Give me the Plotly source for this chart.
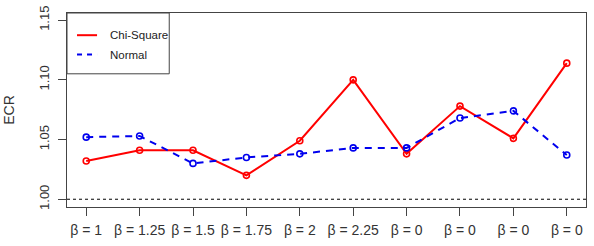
import plotly.graph_objects as go

x_pos = [1, 2, 3, 4, 5, 6, 7, 8, 9, 10]
tick_labels = ["β = 1", "β = 1.25", "β = 1.5", "β = 1.75", "β = 2", "β = 2.25",
               "β = 0", "β = 0", "β = 0", "β = 0"]
chi_square = [1.032, 1.041, 1.041, 1.020, 1.049, 1.100, 1.038, 1.078, 1.051, 1.114]
normal = [1.052, 1.053, 1.030, 1.035, 1.038, 1.043, 1.043, 1.068, 1.074, 1.037]
y_ticks = [1.00, 1.05, 1.10, 1.15]
series_names = ["Chi-Square", "Normal"]

RED = "#ff0000"
BLUE = "#0000ee"
FONT = "Liberation Sans, Arial, sans-serif"
AX = "#444444"

fig = go.Figure()
fig.add_trace(go.Scatter(x=x_pos, y=chi_square, mode="lines", name=series_names[0],
                         showlegend=False, line=dict(color=RED, width=2)))
fig.add_trace(go.Scatter(x=x_pos, y=normal, mode="lines", name=series_names[1],
                         showlegend=False, line=dict(color=BLUE, width=2, dash="7px,6px")))
fig.add_trace(go.Scatter(x=x_pos, y=chi_square, mode="markers", showlegend=False,
                         marker=dict(symbol="circle-open", size=6, color=RED,
                                     line=dict(width=1.6, color=RED))))
fig.add_trace(go.Scatter(x=x_pos, y=normal, mode="markers", showlegend=False,
                         marker=dict(symbol="circle-open", size=6, color=BLUE,
                                     line=dict(width=1.6, color=BLUE))))

fig.add_shape(type="line", xref="paper", yref="y", x0=0, x1=1, y0=1.0, y1=1.0,
              line=dict(color="black", width=1, dash="dot"))

# manual legend (R-style)
fig.add_shape(type="rect", xref="paper", yref="paper", x0=0, x1=0.197,
              y0=0.6866, y1=1, line=dict(color=AX, width=1), fillcolor="white")
leg = [(series_names[0], RED, "solid", 0.8856), (series_names[1], BLUE, "5px,5px", 0.786)]
for name, col, dash, yy in leg:
    fig.add_shape(type="line", xref="paper", yref="paper", x0=0.0193, x1=0.0579,
                  y0=yy, y1=yy, line=dict(color=col, width=2, dash=dash))
    fig.add_annotation(xref="paper", yref="paper", x=0.0792, y=yy, text=name,
                       showarrow=False, xanchor="left", yanchor="middle",
                       font=dict(size=11.5, color="#222222", family=FONT))

fig.update_layout(
    width=594, height=246,
    margin=dict(l=67, r=8, t=6, b=39),
    plot_bgcolor="white", paper_bgcolor="white",
    font=dict(family=FONT, size=13, color="#333333"),
    showlegend=False,
    xaxis=dict(range=[0.64, 10.36], tickmode="array", tickvals=x_pos,
               ticktext=tick_labels, ticks="outside", ticklen=8, tickwidth=1,
               tickcolor=AX, showline=True, linecolor=AX,
               linewidth=1, mirror=True, showgrid=False, zeroline=False,
               tickfont=dict(size=14), ticklabelstandoff=2),
    yaxis=dict(range=[0.9935, 1.156], tickmode="array", tickvals=y_ticks,
               ticktext=[f"{v:.2f}" for v in y_ticks], ticks="outside",
               ticklen=8, tickwidth=1, tickcolor=AX, showline=True,
               linecolor=AX, linewidth=1, mirror=True, showgrid=False,
               zeroline=False, tickangle=-90, tickfont=dict(size=13),
               ticklabeloverflow="allow", ticklabelstandoff=4,
               title=dict(text="ECR", font=dict(size=14), standoff=18)),
)

fig.write_html("out.html")
